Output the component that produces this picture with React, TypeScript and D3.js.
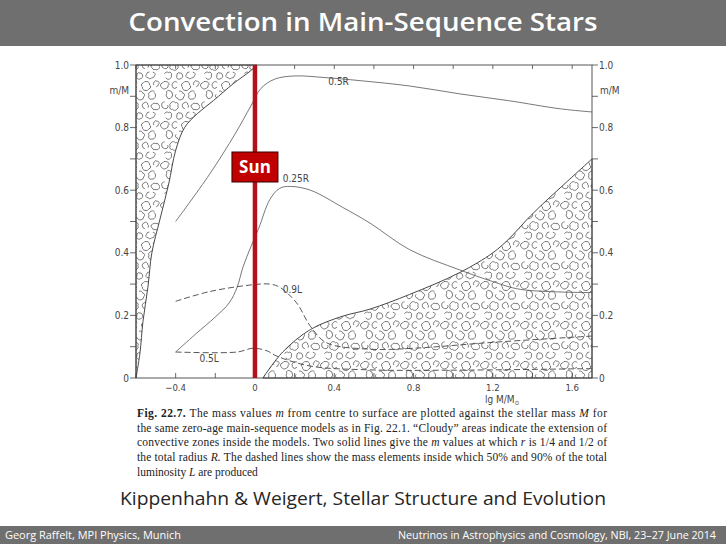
import { useEffect } from 'react';
import * as d3 from 'd3';

const envelopeEdge: [number, number][] = [
  [-0.6, 0], [-0.58, 0.08], [-0.565, 0.18], [-0.54, 0.29], [-0.52, 0.4], [-0.48, 0.505],
  [-0.435, 0.62], [-0.4, 0.727], [-0.355, 0.8], [-0.29, 0.845], [-0.21, 0.886],
  [-0.11, 0.94], [-0.025, 0.98], [0.01, 1.0],
];
const coreEdge: [number, number][] = [
  [0.04, 0], [0.14, 0.083], [0.28, 0.155], [0.44, 0.197], [0.58, 0.22], [0.78, 0.267],
  [1.03, 0.336], [1.2, 0.4], [1.29, 0.45], [1.37, 0.505], [1.45, 0.555], [1.57, 0.625], [1.7, 0.7],
];
const halfRadius: [number, number][] = [
  [-0.4, 0.5], [-0.23, 0.65], [-0.1, 0.78], [-0.02, 0.87], [0.03, 0.925], [0.1, 0.955],
  [0.2, 0.965], [0.35, 0.96], [0.53, 0.95], [0.78, 0.933], [1.03, 0.908], [1.28, 0.886],
  [1.54, 0.86], [1.7, 0.85],
];
const quarterRadius: [number, number][] = [
  [-0.4, 0.083], [-0.3, 0.14], [-0.2, 0.195], [-0.13, 0.24], [-0.09, 0.29], [-0.06, 0.355],
  [-0.02, 0.42], [0.02, 0.48], [0.075, 0.57], [0.125, 0.606], [0.18, 0.612], [0.28, 0.6],
  [0.44, 0.546], [0.58, 0.495], [0.78, 0.41], [1.03, 0.346], [1.2, 0.308], [1.34, 0.283],
  [1.7, 0.273],
];
const lum90: [number, number][] = [
  [-0.4, 0.245], [-0.23, 0.276], [-0.01, 0.298], [0.075, 0.3], [0.125, 0.29], [0.21, 0.24],
  [0.28, 0.165], [0.36, 0.113], [0.58, 0.092], [0.8, 0.095], [1.2, 0.114], [1.7, 0.134],
];
const lum50: [number, number][] = [
  [-0.4, 0.083], [-0.09, 0.083], [-0.01, 0.095], [0.06, 0.087], [0.11, 0.07], [0.28, 0.038],
  [0.58, 0.026], [1.0, 0.025], [1.7, 0.03],
];

const xMinorTicks = [-0.6, -0.4, -0.2, 0, 0.2, 0.4, 0.6, 0.8, 1.0, 1.2, 1.4, 1.6];
const xTickLabels = [-0.4, 0, 0.4, 0.8, 1.2, 1.6];
const yMinorTicks = [0, 0.1, 0.2, 0.3, 0.4, 0.5, 0.6, 0.7, 0.8, 0.9, 1.0];
const yTickLabels = [0, 0.2, 0.4, 0.6, 0.8, 1.0];

const curveLabels = [
  { text: '0.5R', at: [0.37, 0.935] },
  { text: '0.25R', at: [0.14, 0.625] },
  { text: '0.9L', at: [0.14, 0.27] },
  { text: '0.5L', at: [-0.28, 0.05] },
];

const captionLines = [
  'The mass values m from centre to surface are plotted against the stellar mass M for',
  'the same zero-age main-sequence models as in Fig. 22.1. \u201cCloudy\u201d areas indicate the extension of',
  'convective zones inside the models. Two solid lines give the m values at which r is 1/4 and 1/2 of',
  'the total radius R. The dashed lines show the mass elements inside which 50% and 90% of the total',
  'luminosity L are produced',
];
const italicWords = new Set(['m', 'M', 'r', 'R.', 'L']);

const W = 726;
const H = 544;
const axisFont = '"Liberation Sans Narrow", "DejaVu Sans Condensed", sans-serif';
const slideFont = '"Open Sans", "Noto Sans", sans-serif';

// scalloped little blob for the "cloudy" texture
function cloud(cx: number, cy: number, r: number, lobes: number, phase: number, seed: number) {
  const pts = d3.range(lobes + 1).map(i => {
    const a = phase + (2 * Math.PI * i) / lobes;
    const rr = r * (0.8 + 0.2 * (((i + seed) * 7) % 3) / 2);
    return [cx + rr * Math.cos(a), cy + rr * Math.sin(a)];
  });
  let d = `M${pts[0][0].toFixed(2)},${pts[0][1].toFixed(2)}`;
  const end = pts.length - 1 - (seed % 2);
  for (let i = 1; i <= end; i++) {
    const chord = Math.hypot(pts[i][0] - pts[i - 1][0], pts[i][1] - pts[i - 1][1]);
    const k = 0.52 + 0.12 * ((i * 5 + seed) % 3);
    d += `A${(chord * k).toFixed(2)},${(chord * k).toFixed(2)} 0 0 1 ${pts[i][0].toFixed(2)},${pts[i][1].toFixed(2)}`;
  }
  return d;
}

const blobSpots: [number, number, number, number][] = [
  [5, 5, 4, 5], [15, 4.5, 3.3, 4], [26, 6, 4.5, 6], [36, 4, 3, 5], [9.5, 14.5, 3.6, 5],
  [20, 15.5, 4.4, 6], [32, 15, 4, 5], [4.5, 25, 3.5, 4], [14, 26, 4.4, 6], [25.5, 26, 3.4, 5],
  [35.5, 26.5, 3.8, 6], [8, 35.5, 3.8, 5], [19.5, 35.5, 3.4, 4], [30.5, 35, 4, 6],
];
const blobs = blobSpots.map(([cx, cy, r, n], i) => cloud(cx, cy, r, n, i * 0.9, i));

const App = () => {
  useEffect(() => {
    document.body.style.margin = '0';
  }, []);

  const x = d3.scaleLinear().domain([-0.6, 1.7]).range([136, 592]);
  const y = d3.scaleLinear().domain([0, 1]).range([378, 65]);

  const line = d3.line<[number, number]>()
    .x(d => x(d[0]))
    .y(d => y(d[1]))
    .curve(d3.curveCatmullRom.alpha(0.5));

  const envArea = line(envelopeEdge) + `L${x(-0.6)},${y(1)}Z`;
  const coreArea = line(coreEdge) + `L${x(1.7)},${y(0)}Z`;

  const [x0, x1] = x.range();
  const [y0, y1] = y.range();

  return (
    <svg width={W} height={H} viewBox={`0 0 ${W} ${H}`} style={{ display: 'block', background: '#fff' }}>
      <defs>
        <pattern id="cloudy" patternUnits="userSpaceOnUse" width={40} height={40}>
          {blobs.map((d, i) => (
            <path key={i} d={d} fill="none" stroke="#333" strokeWidth={0.65} />
          ))}
        </pattern>
      </defs>

      {/* title bar */}
      <rect x={0} y={0} width={W} height={46} fill="#6f6f6f" />
      <text x={363} y={31} textAnchor="middle" fill="#fff" fontFamily={slideFont}
        fontSize={25} fontWeight={600} textLength={469} lengthAdjust="spacingAndGlyphs">
        Convection in Main-Sequence Stars
      </text>

      {/* convective zones */}
      <path d={envArea} fill="url(#cloudy)" stroke="#333" strokeWidth={0.9} />
      <path d={coreArea} fill="url(#cloudy)" stroke="#333" strokeWidth={0.9} />

      {/* radius and luminosity lines */}
      <path d={line(halfRadius)!} fill="none" stroke="#555" strokeWidth={0.8} />
      <path d={line(quarterRadius)!} fill="none" stroke="#555" strokeWidth={0.8} />
      <path d={line(lum90)!} fill="none" stroke="#444" strokeWidth={0.9} strokeDasharray="6,3" />
      <path d={line(lum50)!} fill="none" stroke="#444" strokeWidth={0.9} strokeDasharray="6,3" />

      {curveLabels.map(l => (
        <text key={l.text} x={x(l.at[0])} y={y(l.at[1])} fontFamily={axisFont} fontSize={10} fill="#444">
          {l.text}
        </text>
      ))}

      {/* frame */}
      <rect x={x0} y={y1} width={x1 - x0} height={y0 - y1} fill="none" stroke="#444" strokeWidth={0.9} />

      {/* x ticks: inward on bottom and top */}
      {xMinorTicks.map(t => (
        <g key={t}>
          <line x1={x(t)} x2={x(t)} y1={y0} y2={y0 - 5} stroke="#444" strokeWidth={0.8} />
          <line x1={x(t)} x2={x(t)} y1={y1} y2={y1 + 4} stroke="#444" strokeWidth={0.8} />
        </g>
      ))}
      {xTickLabels.map(t => (
        <text key={t} x={x(t)} y={y0 + 13} textAnchor="middle" fontFamily={axisFont} fontSize={9.5} fill="#444">
          {t === 0 ? '0' : d3.format('.1f')(t).replace('-', '\u2212')}
        </text>
      ))}
      <text x={x(1.16)} y={y0 + 25} fontFamily={axisFont} fontSize={10} fill="#444">
        lg M/M<tspan fontSize={6.5} dy={1.5}>{'\u2299'}</tspan>
      </text>

      {/* y ticks: outward on both sides */}
      {yMinorTicks.map(t => (
        <g key={t}>
          <line x1={x0} x2={x0 - 6} y1={y(t)} y2={y(t)} stroke="#444" strokeWidth={0.8} />
          <line x1={x1} x2={x1 + 6} y1={y(t)} y2={y(t)} stroke="#444" strokeWidth={0.8} />
        </g>
      ))}
      {yTickLabels.map(t => (
        <g key={t} fontFamily={axisFont} fontSize={10} fill="#444">
          <text x={x0 - 7} y={y(t) + 3.5} textAnchor="end">{t === 0 ? '0' : d3.format('.1f')(t)}</text>
          <text x={x1 + 7} y={y(t) + 3.5}>{t === 0 ? '0' : d3.format('.1f')(t)}</text>
        </g>
      ))}
      <text x={x0 - 7} y={y(0.92) + 3.5} textAnchor="end" fontFamily={axisFont} fontSize={10} fill="#444">m/M</text>
      <text x={x1 + 8} y={y(0.92) + 3.5} fontFamily={axisFont} fontSize={10} fill="#444">m/M</text>

      {/* the Sun */}
      <line x1={x(0)} x2={x(0)} y1={y(1)} y2={y(0)} stroke="#b3121b" strokeWidth={4.5} />
      <rect x={x(0) - 23} y={152} width={46} height={30} fill="#c00000" stroke="#3a0000" strokeWidth={1} />
      <text x={x(0)} y={173} textAnchor="middle" fill="#fff" fontFamily={slideFont} fontSize={17} fontWeight="bold">
        Sun
      </text>

      {/* caption */}
      <g fontFamily='"Liberation Serif", "DejaVu Serif", serif' fontSize={11.5} fill="#222">
        {captionLines.map((ln, i) => {
          const words = ln.split(' ');
          return (
            <text key={i} x={137} y={417 + i * 14.7}
              textLength={i < 4 ? 470 : undefined} lengthAdjust="spacing">
              {i === 0 && <tspan fontWeight="bold">Fig. 22.7. </tspan>}
              {words.map((w, j) => (
                <tspan key={j} fontStyle={italicWords.has(w) ? 'italic' : undefined}>
                  {w}{j < words.length - 1 ? ' ' : ''}
                </tspan>
              ))}
            </text>
          );
        })}
      </g>

      <text x={363} y={505} textAnchor="middle" fill="#262626" fontFamily={slideFont}
        fontSize={19} textLength={486} lengthAdjust="spacingAndGlyphs">
        Kippenhahn &amp; Weigert, Stellar Structure and Evolution
      </text>

      {/* footer */}
      <rect x={0} y={526} width={W} height={18} fill="#6f6f6f" />
      <text x={5} y={539} fill="#fff" fontFamily={slideFont} fontSize={10}
        textLength={176} lengthAdjust="spacingAndGlyphs">
        Georg Raffelt, MPI Physics, Munich
      </text>
      <text x={716} y={539} textAnchor="end" fill="#fff" fontFamily={slideFont} fontSize={10}
        textLength={318} lengthAdjust="spacingAndGlyphs">
        Neutrinos in Astrophysics and Cosmology, NBI, 23{'\u2013'}27 June 2014
      </text>
    </svg>
  );
};

export default App;
